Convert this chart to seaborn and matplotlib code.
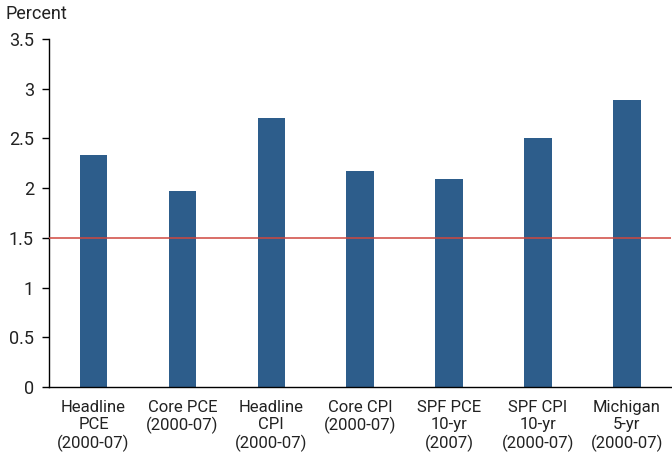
import matplotlib
matplotlib.use('Agg')
import matplotlib.pyplot as plt
import seaborn as sns
import pandas as pd
import numpy as np

# Chart data
categories = ['Headline\nPCE\n(2000-07)', 'Core PCE\n(2000-07)', 'Headline\nCPI\n(2000-07)',
              'Core CPI\n(2000-07)', 'SPF PCE\n10-yr\n(2007)', 'SPF CPI\n10-yr\n(2000-07)',
              'Michigan\n5-yr\n(2000-07)']
values = [2.33, 1.97, 2.70, 2.17, 2.09, 2.50, 2.89]
reference_level = 1.5
y_ticks = [0, 0.5, 1, 1.5, 2, 2.5, 3, 3.5]
y_tick_labels = ['0', '0.5', '1', '1.5', '2', '2.5', '3', '3.5']

sns.set_theme(style='white')
plt.rcParams['font.family'] = ['Roboto', 'DejaVu Sans']

df = pd.DataFrame({'cat': categories, 'val': values})

fig = plt.figure(figsize=(6.72, 4.58), dpi=100)
ax = fig.add_axes([0.073, 0.155, 0.926, 0.76])

sns.barplot(data=df, x='cat', y='val', color='#2d5d8b', saturation=1, width=0.31,
            linewidth=0, ax=ax)
ax.axhline(reference_level, color='#d0473f', linewidth=1.1, zorder=3)

ax.set_ylim(0, 3.5)
ax.set_xlim(-0.5, len(categories) - 0.5)
ax.set_yticks(y_ticks)
ax.set_yticklabels(y_tick_labels, fontsize=13, color='#222222')
ax.set_xlabel('')
ax.set_ylabel('')

# category labels centred, tick marks at the boundaries
ax.set_xticks(range(len(categories)))
ax.set_xticklabels(categories, fontsize=12, color='#222222', linespacing=1.2)
ax.set_xticks(np.arange(-0.5, len(categories)), minor=True)
ax.tick_params(axis='x', which='major', length=0, pad=9)
ax.tick_params(axis='x', which='minor', length=5, width=1, color='black', direction='out')
ax.tick_params(axis='y', which='major', length=5, width=1, color='black', direction='out', left=True, pad=6)

for side in ['top', 'right']:
    ax.spines[side].set_visible(False)
for side in ['left', 'bottom']:
    ax.spines[side].set_color('black')
    ax.spines[side].set_linewidth(1)

fig.text(0.008, 0.97, 'Percent', fontsize=13, color='#222222', va='center', ha='left')

plt.savefig('out.png', dpi=100)
plt.close()
